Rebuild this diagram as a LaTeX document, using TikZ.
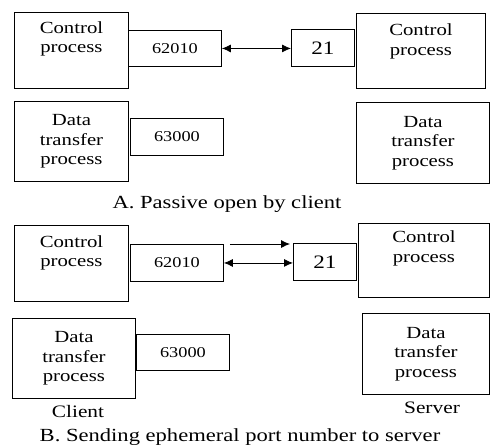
\documentclass[tikz,border=0pt]{standalone}
\usepackage{fontspec}
\newfontfamily\figfont{Liberation Serif}[FakeStretch=1.22]
\usepackage{tikz}
\usetikzlibrary{positioning, arrows.meta, calc}
\tikzset{
  procbox/.style={rectangle, draw=black, line width=0.9pt, anchor=north west, inner sep=0pt, align=center, font=\figfont\fontsize{17}{19.5}\selectfont},
  portbox/.style={rectangle, draw=black, line width=0.9pt, anchor=north west, inner sep=0pt, minimum width=93pt, font=\figfont\fontsize{15}{17}\selectfont},
  boxtext/.style={inner sep=0pt, align=center, font=\figfont\fontsize{17}{19.5}\selectfont},
  caption/.style={inner sep=0pt, anchor=base, font=\figfont\fontsize{18.5}{21}\selectfont},
  twoway/.style={line width=0.8pt, {Latex[length=9pt,width=8pt]}-{Latex[length=9pt,width=8pt]}},
  oneway/.style={line width=0.8pt, -{Latex[length=9pt,width=8pt]}}
}

\begin{document}
\begin{tikzpicture}[x=1pt, y=-1pt]
  \useasboundingbox (0,0) rectangle (490,445);

  % A. passive open
  \node (ctrlA) [procbox, minimum width=114pt, minimum height=76pt] at (14,12) {};
  \node (ctrlAtxt) [boxtext, below=9.5pt of ctrlA.north] {Control\\process};
  \node (portA1) [portbox, minimum height=36pt] at (128,30) {62010};
  \node (portA2) [portbox, minimum width=63pt, minimum height=37pt, font=\figfont\fontsize{19}{21}\selectfont] at (291,29) {21};
  \node (srvctrlA) [procbox, minimum width=129pt, minimum height=75pt] at (356,13) {};
  \node (srvctrlAtxt) [boxtext, below=11pt of srvctrlA.north] {Control\\process};
  \node (dataA) [procbox, minimum width=114pt, minimum height=80pt] at (14,101) {Data\\transfer\\process};
  \node (portA3) [portbox, minimum height=37pt] at (130,118) {63000};
  \node (srvdataA) [procbox, minimum width=133pt, minimum height=81pt] at (356,102) {Data\\transfer\\process};
  \node (capA) [caption] at (227,208) {A. Passive open by client};

  \draw [twoway] (portA1.east) -- (portA1.east -| portA2.west);

  % B. sending the port number
  \node (ctrlB) [procbox, minimum width=114pt, minimum height=76pt] at (14,225) {};
  \node (ctrlBtxt) [boxtext, below=10pt of ctrlB.north] {Control\\process};
  \node (portB1) [portbox, minimum height=37pt] at (130,244) {62010};
  \node (portB2) [portbox, minimum width=63pt, minimum height=37pt, font=\figfont\fontsize{19}{21}\selectfont] at (293,243) {21};
  \node (srvctrlB) [procbox, minimum width=131pt, minimum height=74pt] at (358,223) {};
  \node (srvctrlBtxt) [boxtext, below=7.5pt of srvctrlB.north] {Control\\process};
  \node (dataB) [procbox, minimum width=123pt, minimum height=80pt] at (12,318) {Data\\transfer\\process};
  \node (portB3) [portbox, minimum height=36pt] at (136,334) {63000};
  \node (srvdataB) [procbox, minimum width=127pt, minimum height=81pt] at (362,313) {Data\\transfer\\process};
  \node (client) [caption, font=\figfont\fontsize{17.5}{20}\selectfont] at (78,417) {Client};
  \node (server) [caption, font=\figfont\fontsize{17.5}{20}\selectfont] at (432,413) {Server};
  \node (capB) [caption] at (240,441) {B. Sending ephemeral port number to server};

  \draw [oneway] ([xshift=6pt]portB1.north east) -- ([xshift=-3pt]portB1.north east -| portB2.west);
  \draw [twoway] (portB1.east) -- (portB1.east -| portB2.west);
\end{tikzpicture}
\end{document}
